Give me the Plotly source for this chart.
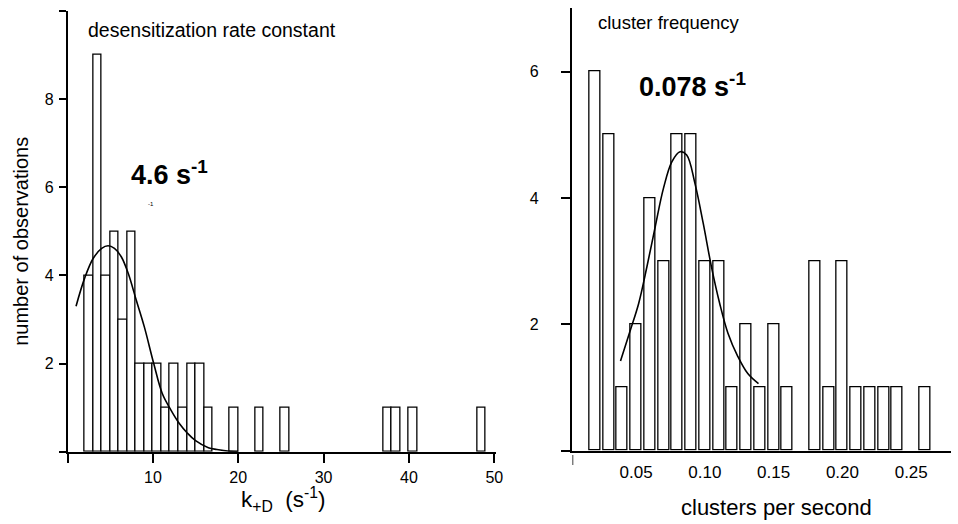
import plotly.graph_objects as go

# ---------------- data ----------------
# left panel: desensitization rate constant histogram (bins of 1 s^-1)
k_bin_left = [2, 3, 4, 5, 6, 7, 8, 9, 10, 11, 12, 13, 14, 15, 16, 19, 22, 25, 37, 38, 40, 48]
k_counts = [4, 9, 4, 5, 3, 5, 2, 2, 2, 1, 2, 1, 2, 2, 1, 1, 1, 1, 1, 1, 1, 1]
k_fit_x = [1.0, 2.0, 3.0, 4.0, 4.75, 5.5, 6.3, 7.1, 8.05, 9.0, 10.1, 11.1, 12.1, 13.1, 14.05,
           15.0, 16.5, 17.5, 19.0, 20.0]
k_fit_y = [3.30, 3.93, 4.38, 4.61, 4.67, 4.61, 4.42, 4.05, 3.44, 2.83, 2.00, 1.32, 0.95, 0.64, 0.42,
           0.25, 0.09, 0.05, 0.01, 0.0]

# right panel: cluster frequency histogram (bins of 0.01 s^-1)
c_bin_center = [0.02, 0.03, 0.04, 0.05, 0.06, 0.07, 0.08, 0.09, 0.10, 0.11, 0.12, 0.13, 0.14, 0.15,
                0.16, 0.18, 0.19, 0.20, 0.21, 0.22, 0.23, 0.24, 0.26]
c_counts = [6, 5, 1, 2, 4, 3, 5, 5, 3, 3, 1, 2, 1, 2, 1, 3, 1, 3, 1, 1, 1, 1, 1]
c_fit_x = [0.0387, 0.0459, 0.0519, 0.0579, 0.0639, 0.0699, 0.0760, 0.0820, 0.0868, 0.0928, 0.0988,
           0.1048, 0.1108, 0.1168, 0.1240, 0.1312, 0.1390]
c_fit_y = [1.42, 1.91, 2.33, 2.91, 3.54, 4.15, 4.57, 4.73, 4.68, 4.23, 3.60, 2.91, 2.33, 1.86, 1.49,
           1.22, 1.06]

k_xticks = [0, 10, 20, 30, 40, 50]
k_xticklabels = ["", "10", "20", "30", "40", "50"]
k_yticks = [0, 2, 4, 6, 8, 10]
k_yticklabels = ["", "2", "4", "6", "8", ""]
c_xticks = [0.05, 0.10, 0.15, 0.20, 0.25]
c_xticklabels = ["0.05", "0.10", "0.15", "0.20", "0.25"]
c_yticks = [0, 2, 4, 6]
c_yticklabels = ["", "2", "4", "6"]

# ---------------- figure ----------------
W, H = 958, 524
FONT = "Liberation Sans, Arial, Helvetica, sans-serif"

def px_x(p):
    return p / W

def px_y(p):
    return (H - p) / H

fig = go.Figure()

fig.add_trace(go.Bar(
    x=[b + 0.5 for b in k_bin_left], y=k_counts, width=1.0,
    marker=dict(color="white", line=dict(color="black", width=1.3)),
    xaxis="x", yaxis="y", showlegend=False, hoverinfo="x+y"))
fig.add_trace(go.Scatter(
    x=k_fit_x, y=k_fit_y, mode="lines", line=dict(color="black", width=1.6, shape="spline"),
    xaxis="x", yaxis="y", showlegend=False))

fig.add_trace(go.Bar(
    x=c_bin_center, y=c_counts, width=0.008,
    marker=dict(color="white", line=dict(color="black", width=1.3)),
    xaxis="x2", yaxis="y2", showlegend=False, hoverinfo="x+y"))
fig.add_trace(go.Scatter(
    x=c_fit_x, y=c_fit_y, mode="lines", line=dict(color="black", width=1.6, shape="spline"),
    xaxis="x2", yaxis="y2", showlegend=False))

axis_common = dict(showgrid=False, zeroline=False, showline=True, linecolor="black", linewidth=1.5,
                   ticks="outside", tickcolor="black", tickwidth=1.5,
                   tickfont=dict(family=FONT, size=16, color="black"), fixedrange=True)

k_x0_px = 68
k_scale = 8.6
k_xmax = 50.2
c_x0_px = 576.7
c_scale = 1386.0
c_xmin = 0.0038
c_xmax = c_xmin + (W - c_x0_px) / c_scale

fig.update_layout(
    width=W, height=H, margin=dict(l=0, r=0, t=0, b=0),
    paper_bgcolor="white", plot_bgcolor="white", bargap=0,
    font=dict(family=FONT, color="black"),
    xaxis=dict(axis_common, domain=[px_x(k_x0_px), px_x(k_x0_px + k_xmax * k_scale)],
               range=[0, k_xmax], tickvals=k_xticks, ticktext=k_xticklabels, ticklen=10,
               anchor="y", ticklabelstandoff=0),
    yaxis=dict(axis_common, domain=[px_y(451.7), px_y(10.7)], range=[0, 10],
               tickvals=k_yticks, ticktext=k_yticklabels, ticklen=7, anchor="x",
               ticklabelstandoff=2),
    xaxis2=dict(axis_common, domain=[px_x(c_x0_px), 1.0], range=[c_xmin, c_xmax],
                tickvals=c_xticks, ticktext=c_xticklabels, ticks="", anchor="y2",
                tickfont=dict(family=FONT, size=17, color="black"), ticklabelstandoff=5),
    yaxis2=dict(axis_common, domain=[px_y(450.7), px_y(8.3)], range=[0, 7],
                tickvals=c_yticks, ticktext=c_yticklabels, ticklen=10, anchor="x2",
                ticklabelstandoff=19),
)

ann = []
def add_text(x, y, text, size, bold=False, xanchor="center", yanchor="middle", angle=0):
    t = f"<b>{text}</b>" if bold else text
    ann.append(dict(x=px_x(x), y=px_y(y), xref="paper", yref="paper", text=t, showarrow=False,
                    xanchor=xanchor, yanchor=yanchor, textangle=angle,
                    font=dict(family=FONT, size=size, color="black")))

add_text(87, 30, "desensitization rate constant", 19.5, xanchor="left")
add_text(130, 173, "4.6 s<sup>-1</sup>", 27, bold=True, xanchor="left")
add_text(152, 204, "-1", 6)
add_text(21, 241, "number of observations", 20, angle=-90)
add_text(286, 499, "k<sub>+D</sub>  (s<sup>-1</sup>)", 22.5)

add_text(600, 23, "cluster frequency", 18.5, xanchor="left")
add_text(642, 85, "0.078 s<sup>-1</sup>", 27, bold=True, xanchor="left")
add_text(782, 507, "clusters per second", 22)
fig.update_layout(annotations=ann)

# small detached tick mark under the origin of the right panel
fig.add_shape(type="line", xref="x2", yref="paper", x0=c_xmin, x1=c_xmin,
              y0=px_y(455), y1=px_y(465), line=dict(color="black", width=1.5))

fig.write_html("out.html", config={"displayModeBar": False},
               post_script="document.body.style.margin='0px';document.body.style.overflow='hidden';")
